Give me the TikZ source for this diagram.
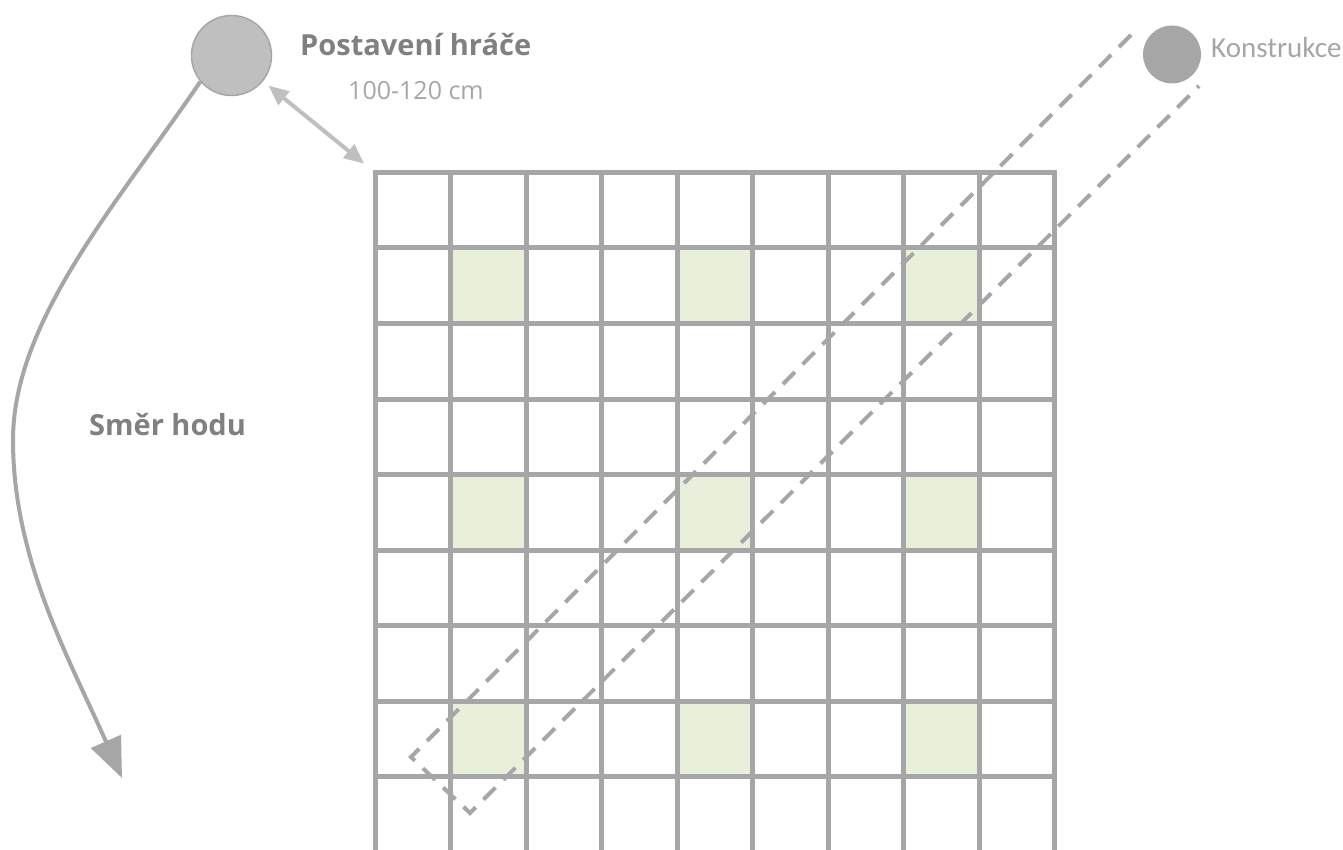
\documentclass[tikz,border=0pt]{standalone}
\usepackage{fontspec}
\setmainfont{Open Sans}
\newfontfamily\konstrfont{Carlito}
\usepackage{tikz}
\usetikzlibrary{positioning,arrows.meta}

\definecolor{mrizka}{HTML}{A6A6A6}
\definecolor{svetla}{HTML}{BFBFBF}
\definecolor{popis}{HTML}{808080}
\definecolor{pole}{HTML}{E8F0DC}

\begin{document}
\begin{tikzpicture}[
  x=1pt, y=-1pt,
  hrac/.style={circle, draw=mrizka, line width=1.5pt, fill=svetla,
               minimum size=80pt, inner sep=0pt},
  konstr/.style={circle, fill=mrizka, minimum size=58pt, inner sep=0pt},
  nadpis/.style={anchor=base west, inner sep=0pt, text=popis,
                 font=\fontsize{29}{34}\selectfont\bfseries},
  mira/.style={anchor=base west, inner sep=0pt, text=mrizka,
               font=\fontsize{25}{30}\selectfont},
  car/.style={draw=mrizka, line width=5pt},
  zelene/.style={fill=pole},
  osa/.style={draw=mrizka, line width=4pt, dash pattern=on 17pt off 11pt},
  hod/.style={draw=mrizka, line width=4pt,
              -{Triangle[length=40pt,width=32pt]}},
  dvojsipka/.style={draw=svetla, line width=4pt,
                    {Triangle[length=20pt,width=17pt]}-{Triangle[length=20pt,width=17pt]}},
]
\useasboundingbox (0,0) rectangle (1343,850);

% zelena pole
\foreach \i in {1,4,7}
  \foreach \j in {1,4,7}
    \fill[zelene] (375+75.5*\i,172.5+75.5*\j) rectangle ++(75.5,75.5);

% mrizka
\foreach \i in {0,...,9}
  \draw[car] (375+75.5*\i,170) -- (375+75.5*\i,860);
\foreach \j in {0,...,8}
  \draw[car] (372.5,172.5+75.5*\j) -- (1057,172.5+75.5*\j);

\coordinate (roh) at (375,172.5);

% osa konstrukce
\draw[osa] (1131,35) -- (411,757) -- (470,813) -- (1199,86);

\node[hrac] (hrac) at (231.5,55.5) {};
\node[konstr] (konstr) at (1172,54.5) {};

\node[nadpis] (postaveni) at (300,56) {Postavení hráče};
\node[mira] (vzdalenost) at (348,100) {100-120 cm};
\node[nadpis] (smer) at (89,435) {Směr hodu};
\node[anchor=base west, inner sep=0pt, text=mrizka,
      font=\konstrfont\fontsize{29}{34}\selectfont] (konstrukce) at (1211,58) {Konstrukce};

\draw[dvojsipka, shorten <=7pt, shorten >=14pt] (hrac) -- (roh);
\draw[hod] (hrac.220) .. controls (120,200) and (13,320) .. (13,440)
  .. controls (13,560) and (70,660) .. (122,778);
\end{tikzpicture}
\end{document}
